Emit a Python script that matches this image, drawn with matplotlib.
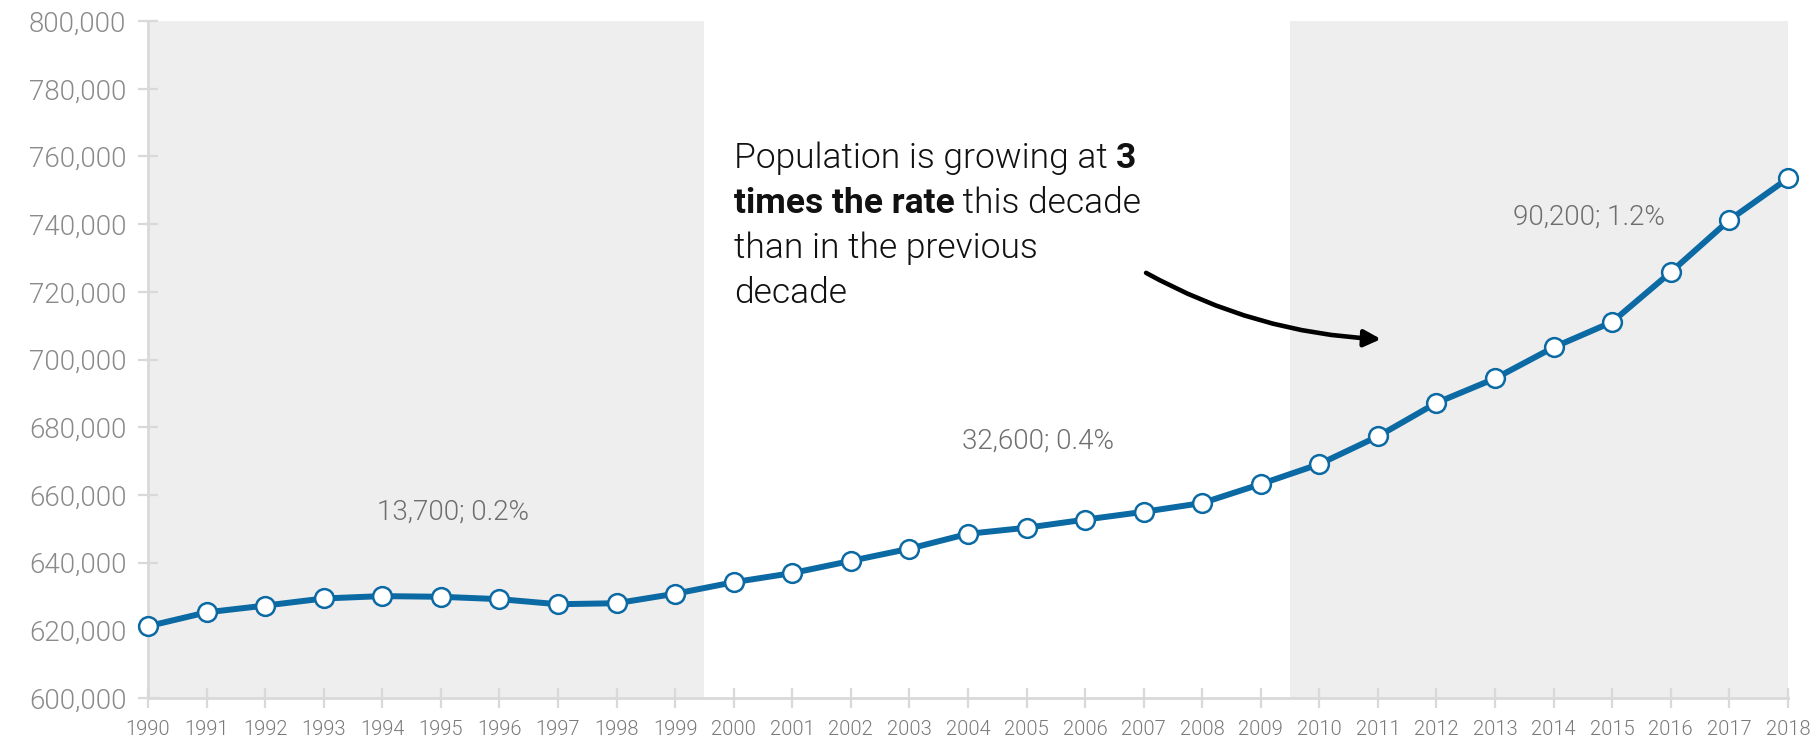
import numpy as np
import matplotlib.pyplot as plt
from matplotlib.ticker import FuncFormatter

plt.rcParams['font.family'] = ['Roboto', 'DejaVu Sans']

# population by year
years = list(range(1990, 2019))
population = [621200, 625300, 627300, 629400, 630100, 629900, 629200, 627700,
              628000, 630800, 634200, 636900, 640500, 644100, 648500, 650300,
              652700, 655000, 657600, 663200, 669100, 677300, 687200, 694400,
              703600, 711100, 725800, 741200, 753500]

# decade change labels: (x, y, text)
decade_labels = [(1995.2, 655000, '13,700; 0.2%'),
                 (2005.2, 676000, '32,600; 0.4%'),
                 (2014.6, 742000, '90,200; 1.2%')]

blue = '#0b69a3'
grid_grey = '#d9d9d9'
light = 300

fig = plt.figure(figsize=(18.14, 7.39), dpi=100)
ax = fig.add_axes([0.0816, 0.0555, 0.904, 0.916])

# shaded decades
ax.axvspan(1990, 1999.5, color='#eeeeee', zorder=0, lw=0)
ax.axvspan(2009.5, 2018, color='#eeeeee', zorder=0, lw=0)

ax.plot(years, population, color=blue, lw=4.3, marker='o', markersize=13.5,
        markerfacecolor='white', markeredgecolor=blue, markeredgewidth=1.8,
        zorder=3, solid_joinstyle='round', clip_on=False)

ax.set_xlim(1990, 2018)
ax.set_ylim(600000, 800000)
ax.set_xticks(years)
ax.set_yticks(np.arange(600000, 800001, 20000))
ax.yaxis.set_major_formatter(FuncFormatter(lambda v, p: f'{int(v):,}'))

for s in ['top', 'right']:
    ax.spines[s].set_visible(False)
for s in ['left', 'bottom']:
    ax.spines[s].set_color(grid_grey)
    ax.spines[s].set_linewidth(2)

ax.tick_params(axis='both', direction='inout', length=15, width=1.6, color=grid_grey)
ax.tick_params(axis='y', labelsize=20, labelcolor='#8a8a8a', pad=8)
ax.tick_params(axis='x', labelsize=14.5, labelcolor='#7a7a7a', pad=8)
for lab in ax.get_xticklabels() + ax.get_yticklabels():
    lab.set_fontweight(light)

for x, y, t in decade_labels:
    ax.text(x, y, t, ha='center', va='center', fontsize=20, color='#6e6e6e',
            fontweight=light)

# callout text with bold pieces
fig.canvas.draw()
renderer = fig.canvas.get_renderer()
lines = [[('Population is growing at ', light), ('3', 'bold')],
         [('times the rate', 'bold'), (' this decade', light)],
         [('than in the previous', light)],
         [('decade', light)]]
x0, y0 = ax.transData.transform((2000.0, 756500))
line_h = 45
for i, parts in enumerate(lines):
    xpix = x0
    for txt, w in parts:
        t = fig.text(xpix / fig.dpi / fig.get_figwidth(),
                     (y0 - i * line_h) / fig.dpi / fig.get_figheight(),
                     txt, fontsize=25.5, fontweight=w, color='#111111',
                     va='baseline', ha='left')
        xpix = t.get_window_extent(renderer).x1

ax.annotate('', xy=(2011.1, 706000), xytext=(2007.0, 726000),
            arrowprops=dict(arrowstyle='-|>', color='black', lw=3.3,
                            mutation_scale=25,
                            connectionstyle='arc3,rad=0.12'))

plt.savefig('out.png', dpi=100)
